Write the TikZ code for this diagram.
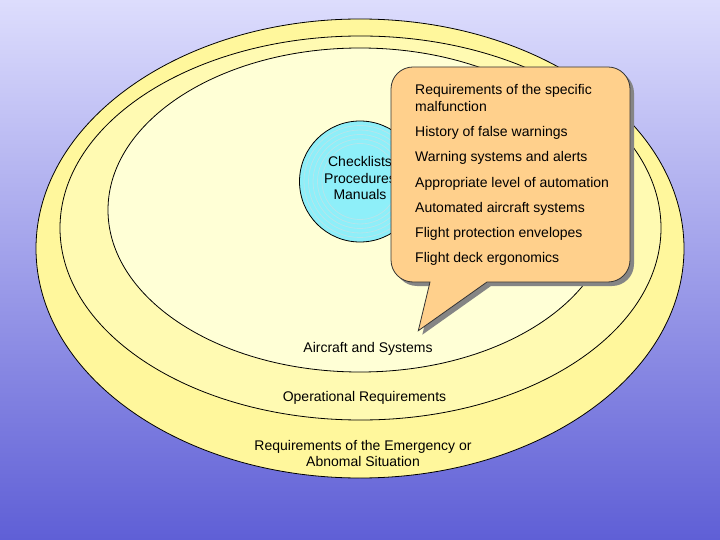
\documentclass[tikz,border=0pt]{standalone}
\usepackage{fontspec}
\setmainfont{Liberation Sans}
\definecolor{bgtop}{HTML}{DDDDFD}
\definecolor{bgbot}{HTML}{5F5FD6}
\definecolor{ringout}{HTML}{FFF79C}
\definecolor{ringmid}{HTML}{FFFAB2}
\definecolor{ringin}{HTML}{FFFFD6}
\definecolor{cyanfill}{HTML}{8EEFF9}
\definecolor{cyanring}{HTML}{B4E6EC}
\definecolor{callfill}{HTML}{FFD08C}
\definecolor{callshadow}{HTML}{858585}
\newcommand{\calloutshape}{(430,282) -- (418.3,330.7) -- (487,282) -- (608,282)
  .. controls (620.2,282) and (630,272.2) .. (630,260) -- (630,89)
  .. controls (630,76.8) and (620.2,67) .. (608,67) -- (413,67)
  .. controls (400.8,67) and (391,76.8) .. (391,89) -- (391,260)
  .. controls (391,272.2) and (400.8,282) .. (413,282) -- cycle}
\begin{document}
\begin{tikzpicture}[x=1bp,y=-1bp,
  every node/.style={inner sep=0pt, font=\fontsize{14bp}{16bp}\selectfont},
  lbl/.style={anchor=base},
  item/.style={anchor=base west},
  zone/.style={draw=black, line width=0.8bp}]
\shade[top color=bgtop, bottom color=bgbot] (0,0) rectangle (720,540);
\useasboundingbox (0,0) rectangle (720,540);
% nested zones
\draw[zone, fill=ringout] (360,248.5) ellipse [x radius=324, y radius=229.5];
\draw[zone, fill=ringmid] (360.5,228) ellipse [x radius=300.5, y radius=192];
\draw[zone, fill=ringin] (360,210) ellipse [x radius=252, y radius=162];
% core circle
\node[circle, draw=black, line width=0.8bp, fill=cyanfill, minimum size=121bp] (core) at (360,181.5) {};
\foreach \r in {56,51.5,47,42.5,38}
  \draw[cyanring, line width=0.8bp] (core.center) circle [radius=\r];
\node[lbl] (chk) at (360,167) {Checklists};
\node[lbl] (proc) at (360,183.5) {Procedures};
\node[lbl] (man) at (360,200) {Manuals};
% zone labels
\node[lbl] (air) at (368,352.5) {Aircraft and Systems};
\node[lbl] (ops) at (364.5,401) {Operational Requirements};
\node[lbl] (emg1) at (363,450) {Requirements of the Emergency or};
\node[lbl] (emg2) at (363,466) {Abnomal Situation};
% callout
\fill[callshadow, shift={(4,4)}] \calloutshape;
\draw[fill=callfill, draw=black!80, line width=0.8bp] \calloutshape;
\node[item] (c1) at (415,95) {Requirements of the specific};
\node[item] (c2) at (415,111.5) {malfunction};
\node[item] (c3) at (415,137) {History of false warnings};
\node[item] (c4) at (415,162) {Warning systems and alerts};
\node[item] (c5) at (415,187.5) {Appropriate level of automation};
\node[item] (c6) at (415,212.5) {Automated aircraft systems};
\node[item] (c7) at (415,237.5) {Flight protection envelopes};
\node[item] (c8) at (415,262.5) {Flight deck ergonomics};
\end{tikzpicture}
\end{document}
